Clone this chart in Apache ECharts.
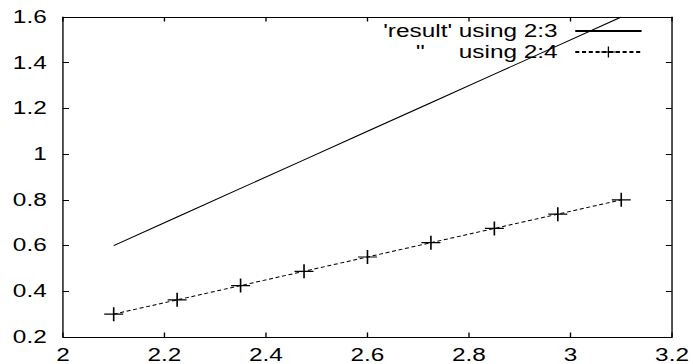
<!DOCTYPE html>
<html>
<head>
<meta charset="utf-8">
<script src="https://cdn.jsdelivr.net/npm/echarts@6/dist/echarts.min.js"></script>
<style>
  html, body { margin: 0; padding: 0; background: #fff; overflow: hidden; }
  /* the reference is a gnuplot png stretched sideways, so draw narrow and stretch */
  #chart { width: 512px; height: 364px; transform: scaleX(1.35352); transform-origin: 0 0; }
</style>
</head>
<body>
<div id="chart"></div>
<script>
const xVals = [2.1, 2.225, 2.35, 2.475, 2.6, 2.725, 2.85, 2.975, 3.1];
const col3 = [0.6, 0.725, 0.85, 0.975, 1.1, 1.225, 1.35, 1.475, 1.6];
const col4 = [0.3, 0.3625, 0.425, 0.4875, 0.55, 0.6125, 0.675, 0.7375, 0.8];
const seriesNames = ["'result' using 2:3", "''     using 2:4"];

const font = '"Liberation Sans", Arial, sans-serif';
const plus = "path://M0,6.4H14V7.6H0Z M6.4,0H7.6V14H6.4Z";

const chart = echarts.init(document.getElementById("chart"), null, { renderer: "svg" });

function frameAxis(pos, isX, showLabel) {
  return {
    type: "value",
    position: pos,
    min: isX ? 2 : 0.2,
    max: isX ? 3.2 : 1.6,
    interval: 0.2,
    axisLine: { show: true, onZero: false, lineStyle: { color: "#000", width: 1 } },
    axisTick: { show: true, inside: true, length: 4.5, lineStyle: { color: "#000", width: 1 } },
    axisLabel: {
      show: showLabel,
      color: "#000",
      fontFamily: font,
      fontSize: 18,
      margin: isX ? 9 : 12,
    },
    splitLine: { show: false },
  };
}

const option = {
  animation: false,
  backgroundColor: "#fff",
  grid: { left: 46.5, right: 14.8, top: 17, bottom: 27, containLabel: false },
  legend: {
    orient: "vertical",
    align: "right",
    right: 32,
    top: 17,
    itemWidth: 49,
    itemHeight: 14,
    itemGap: 3,
    data: [
      // solid line only, no dot in the key
      { name: seriesNames[0], itemStyle: { color: "transparent", borderWidth: 0 } },
      { name: seriesNames[1] },
    ],
    textStyle: {
      color: "#000",
      fontFamily: font,
      fontSize: 18,
      lineHeight: 14,
      padding: [0, 8, 0, 0],
    },
  },
  xAxis: [frameAxis("bottom", true, true), frameAxis("top", true, false)],
  yAxis: [frameAxis("left", false, true), frameAxis("right", false, false)],
  series: [
    {
      name: seriesNames[0],
      type: "line",
      symbol: "none",
      lineStyle: { color: "#000", width: 1 },
      itemStyle: { color: "#000" },
      data: xVals.map((x, i) => [x, col3[i]]),
    },
    {
      name: seriesNames[1],
      type: "line",
      symbol: plus,
      symbolSize: 14,
      lineStyle: { color: "#000", width: 1, type: [3, 2] },
      itemStyle: { color: "#000" },
      data: xVals.map((x, i) => [x, col4[i]]),
    },
  ],
};

chart.setOption(option);
</script>
</body>
</html>
